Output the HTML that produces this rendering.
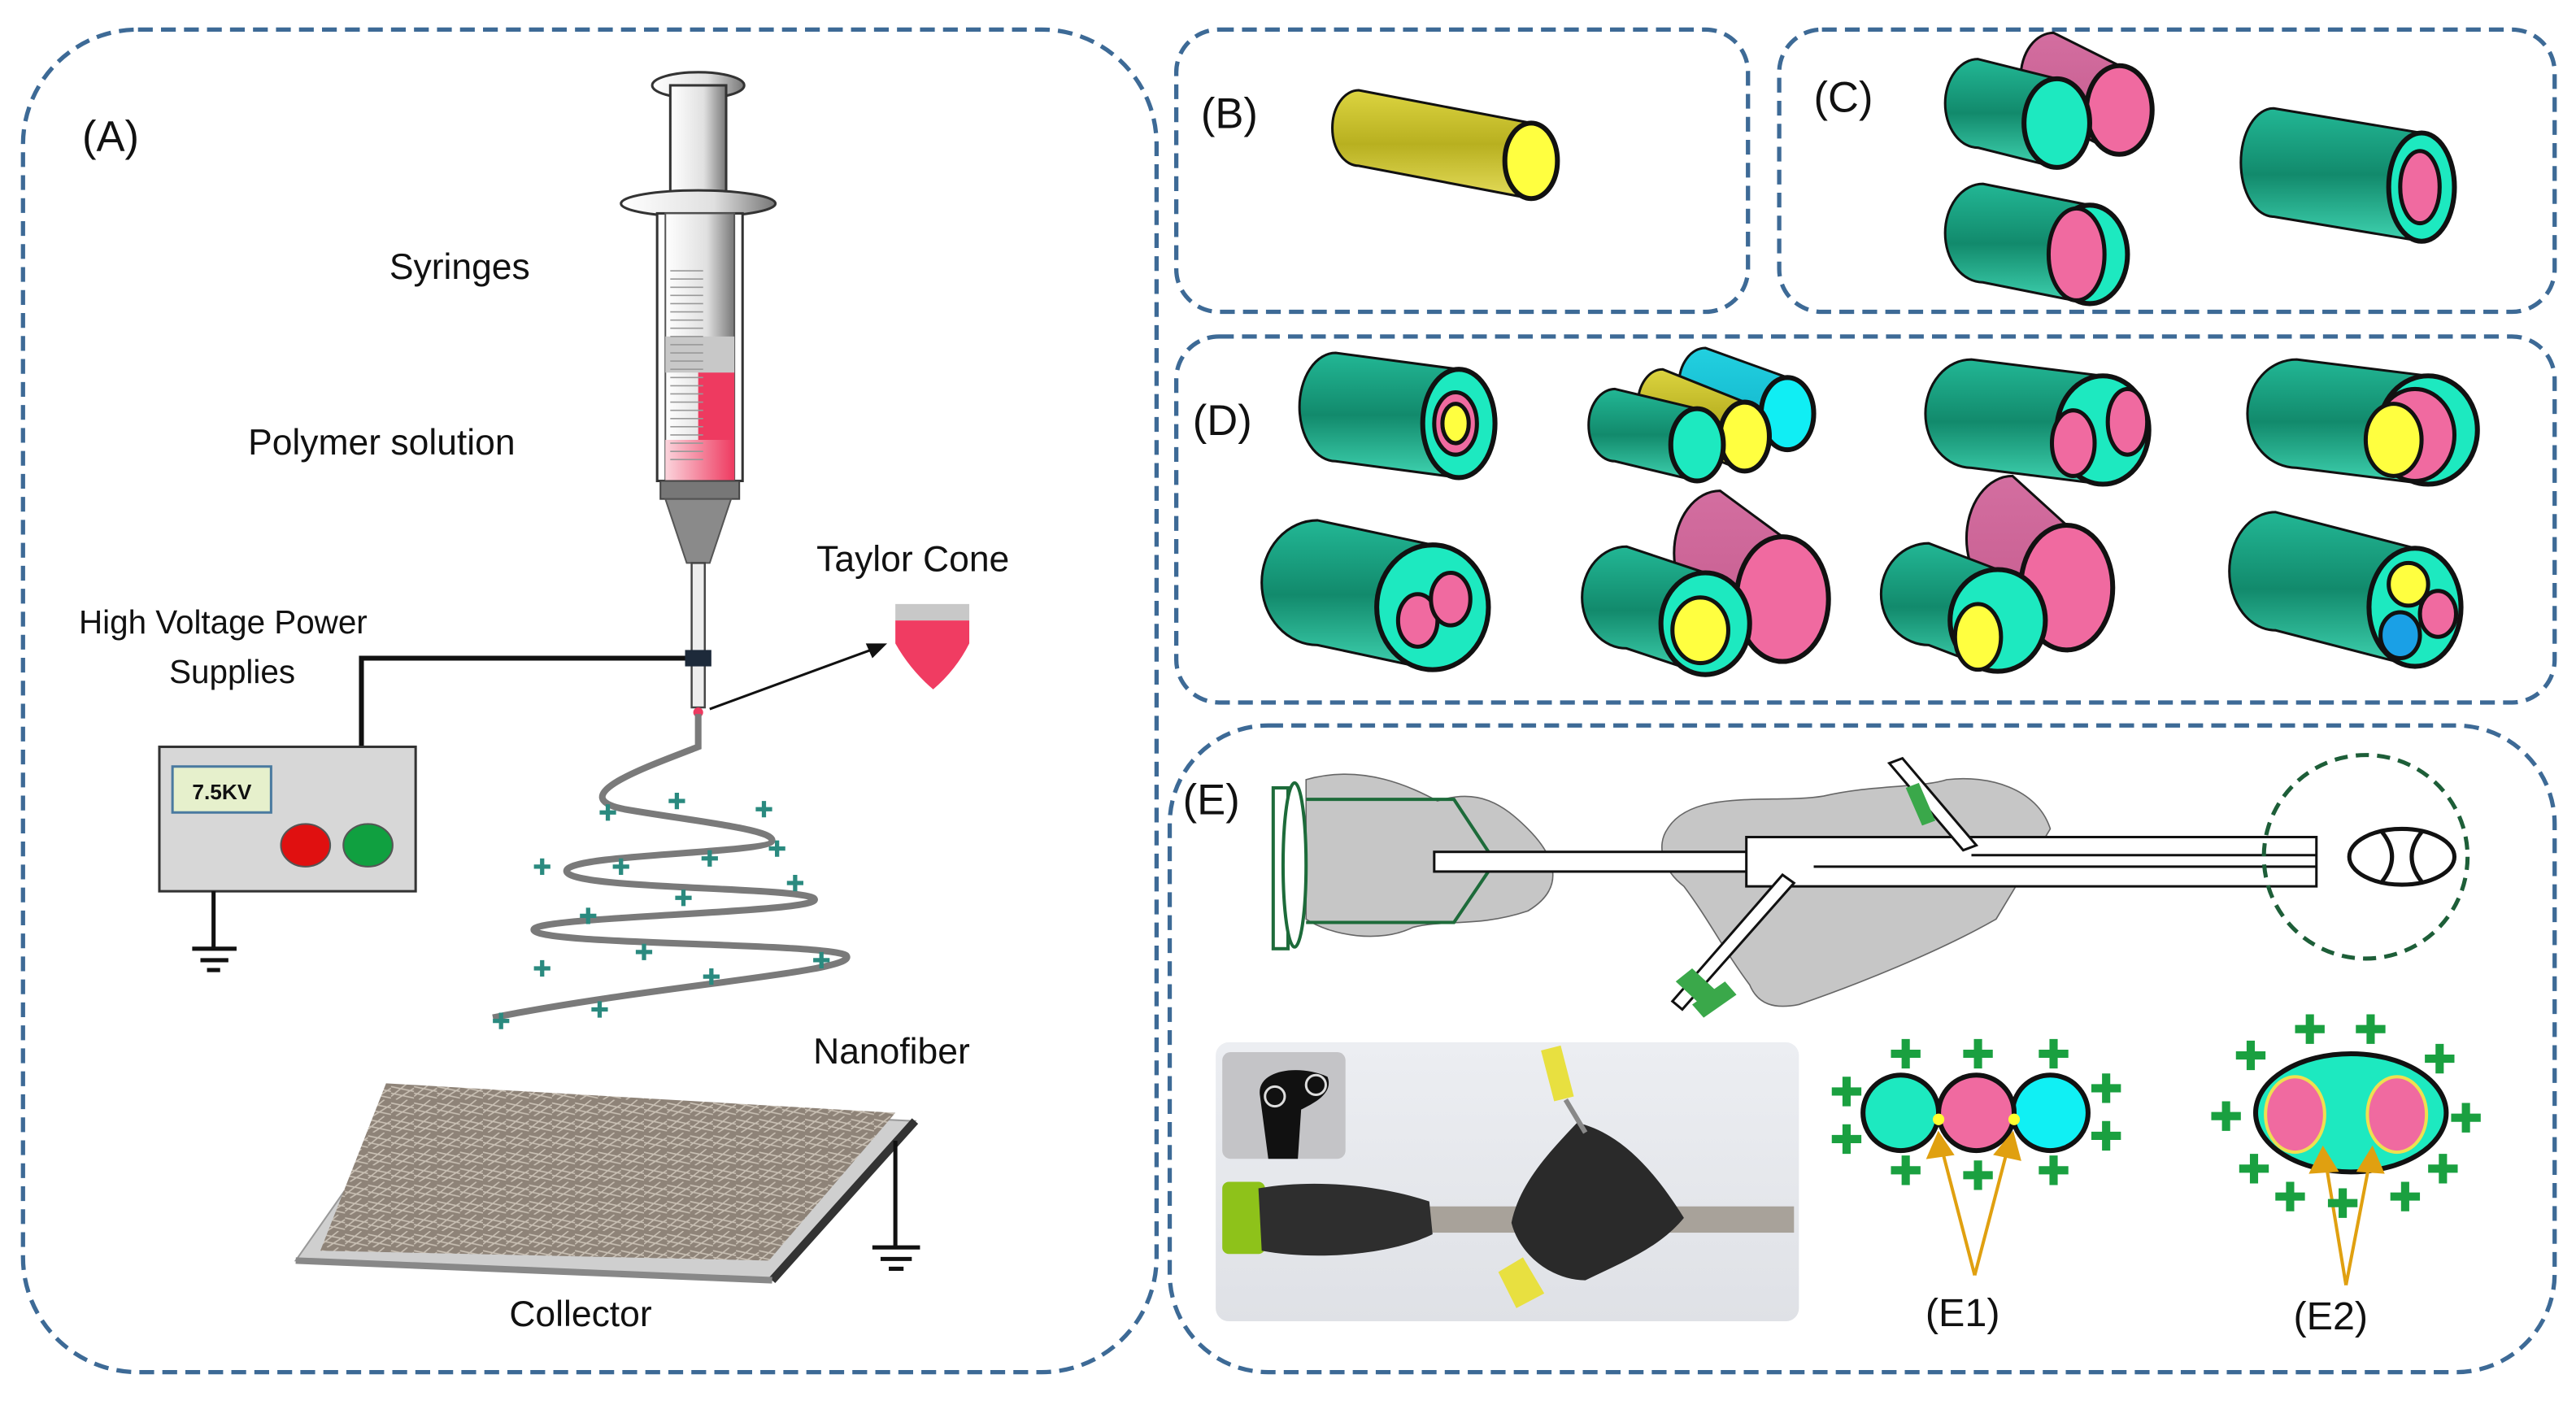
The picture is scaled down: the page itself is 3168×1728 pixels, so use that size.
<!DOCTYPE html>
<html><head><meta charset="utf-8"><style>
html,body{margin:0;padding:0;background:#fff;}
svg{display:block;}
text{font-family:"Liberation Sans","DejaVu Sans",sans-serif;fill:#111;}
</style></head><body>
<svg id="s" width="3168" height="1728" viewBox="0 0 1568 856" preserveAspectRatio="none" xmlns="http://www.w3.org/2000/svg">
<defs>
<linearGradient id="gT" x1="0" y1="0" x2="0" y2="1"><stop offset="0" stop-color="#22b795"/><stop offset="0.5" stop-color="#128a6c"/><stop offset="1" stop-color="#3fd3b0"/></linearGradient>
<linearGradient id="gP" x1="0" y1="0" x2="0" y2="1"><stop offset="0" stop-color="#d36ea0"/><stop offset="1" stop-color="#c45a8c"/></linearGradient>
<linearGradient id="gY" x1="0" y1="0" x2="0" y2="1"><stop offset="0" stop-color="#dcd440"/><stop offset="0.5" stop-color="#b8b020"/><stop offset="1" stop-color="#e4dc5a"/></linearGradient>
<linearGradient id="gC" x1="0" y1="0" x2="0" y2="1"><stop offset="0" stop-color="#22d0e0"/><stop offset="1" stop-color="#10b0c8"/></linearGradient>
<linearGradient id="gS" x1="0" y1="0" x2="1" y2="0"><stop offset="0" stop-color="#fff"/><stop offset="0.6" stop-color="#e0e0e0"/><stop offset="1" stop-color="#777"/></linearGradient>
<linearGradient id="gR" x1="0" y1="0" x2="1" y2="0"><stop offset="0" stop-color="#fbd4dc"/><stop offset="1" stop-color="#ee3a60"/></linearGradient>
<linearGradient id="gPh" x1="0" y1="0" x2="0" y2="1"><stop offset="0" stop-color="#eceef2"/><stop offset="1" stop-color="#dfe1e6"/></linearGradient>
<pattern id="fib" width="14" height="10" patternUnits="userSpaceOnUse"><rect width="14" height="10" fill="#8e8378"/><path d="M0 2 L14 5 M0 8 L10 0 M3 10 L14 3 M0 6 L14 9" stroke="#c9c0b4" stroke-width="0.8"/></pattern>
</defs>
<g fill="none" stroke="#3d6a96" stroke-width="2.6" stroke-dasharray="9,5">
<rect x="14" y="18" width="690" height="818" rx="70"/>
<rect x="716" y="18" width="348" height="172" rx="26"/>
<rect x="1083" y="18" width="472" height="172" rx="26"/>
<rect x="716" y="205" width="839" height="223" rx="26"/>
<rect x="712" y="442" width="843" height="394" rx="60"/>
</g>
<g font-size="26"><text x="50" y="92">(A)</text><text x="731" y="78">(B)</text><text x="1104" y="68">(C)</text><text x="726" y="265">(D)</text><text x="720" y="496">(E)</text></g>

<!-- syringe -->
<ellipse cx="425" cy="52" rx="28" ry="8" fill="url(#gS)" stroke="#333" stroke-width="1.5"/>
<rect x="408" y="52" width="34" height="70" fill="url(#gS)" stroke="#333" stroke-width="1.5"/>
<ellipse cx="425" cy="124" rx="47" ry="8" fill="url(#gS)" stroke="#333" stroke-width="1.5"/>
<rect x="400" y="130" width="52" height="163" fill="#fff" stroke="#333" stroke-width="1.5"/>
<rect x="405" y="130" width="42" height="163" fill="url(#gS)" stroke="#555" stroke-width="1"/>
<rect x="425" y="225" width="22" height="68" fill="#ee3a60"/>
<rect x="405" y="268" width="42" height="25" fill="url(#gR)"/>
<rect x="405" y="205" width="42" height="22" fill="#c8c8c8"/>
<g stroke="#999" stroke-width="0.8" id="grad"></g>
<rect x="402" y="293" width="48" height="11" fill="#777" stroke="#444"/>
<path d="M405 304 L445 304 L432 343 L418 343 Z" fill="#8a8a8a" stroke="#555"/>
<rect x="421" y="343" width="8" height="88" fill="#eee" stroke="#444" stroke-width="1.2"/>
<rect x="417" y="396" width="16" height="10" fill="#1d2a3a"/>
<circle cx="425" cy="434" r="3" fill="#ee3a60"/>
<path d="M417 401 L220 401 L220 455" fill="none" stroke="#111" stroke-width="3"/>
<rect x="97" y="455" width="156" height="88" fill="#d7d7d7" stroke="#333" stroke-width="1.5"/>
<rect x="105" y="467" width="60" height="28" fill="#e6f0cc" stroke="#4a7aa0" stroke-width="1.5"/>
<text x="117" y="487" font-size="13" font-weight="bold">7.5KV</text>
<ellipse cx="186" cy="515" rx="15" ry="13" fill="#e01010" stroke="#555"/>
<ellipse cx="224" cy="515" rx="15" ry="13" fill="#10a040" stroke="#555"/>
<path d="M130 543 L130 578 M117 578 L144 578 M122 585 L139 585 M126 591 L134 591" stroke="#111" stroke-width="2.5"/>
<text x="237" y="170" font-size="22">Syringes</text>
<text x="151" y="277" font-size="22">Polymer solution</text>
<text x="48" y="386" font-size="20">High Voltage Power</text>
<text x="103" y="416" font-size="20">Supplies</text>
<text x="497" y="348" font-size="22">Taylor Cone</text>
<text x="495" y="648" font-size="22">Nanofiber</text>
<text x="310" y="808" font-size="22">Collector</text>
<rect x="545" y="368" width="45" height="10" fill="#c8c8c8"/>
<path d="M545 378 L590 378 L590 392 Q582 408 568 420 Q554 408 545 392 Z" fill="#f03c62"/>
<path d="M432 432 L530 396" stroke="#111" stroke-width="1.5"/>
<path d="M540 392 L527 392 L531 401 Z" fill="#111"/>
<path d="M425 435 L425 455 C400 465 340 485 380 493 C420 500 470 505 470 512 C470 520 350 520 345 530 C340 542 480 540 495 547 C510 556 330 558 325 566 C320 576 500 574 515 582 C525 592 400 600 300 620" fill="none" stroke="#7a7a7a" stroke-width="4"/>
<g id="tp" fill="#2a8a7f"></g>
<!-- collector -->
<polygon points="180,768 250,668 557,683 470,780" fill="#cfcfcf" stroke="#999"/>
<polygon points="235,660 545,678 468,768 195,762" fill="url(#fib)"/>
<path d="M557 683 L470 780" stroke="#333" stroke-width="5"/>
<path d="M180 768 L470 780" stroke="#888" stroke-width="4"/>
<path d="M545 695 L545 760 M531 760 L560 760 M536 767 L555 767 M541 773 L550 773" stroke="#111" stroke-width="2.5"/>

<g id="cyl"></g>

<!-- E schematic -->
<path d="M795 475 C830 465 860 480 875 488 C900 480 915 490 930 505 C945 520 955 540 930 555 C900 565 880 560 860 565 C840 575 810 570 795 560 Z" fill="#c6c6c6" stroke="#666" stroke-width="0.8"/>
<path d="M1015 505 C1030 480 1080 490 1110 485 C1140 478 1170 480 1185 475 C1210 472 1240 480 1248 505 L1215 560 C1180 580 1130 600 1095 612 C1080 615 1070 612 1065 600 C1050 580 1040 560 1025 540 C1012 530 1008 515 1015 505 Z" fill="#c6c6c6" stroke="#666" stroke-width="0.8"/>
<rect x="775" y="480" width="9" height="98" fill="#fff" stroke="#1d6b3a" stroke-width="2"/>
<ellipse cx="788" cy="527" rx="7" ry="50" fill="#fff" stroke="#1d6b3a" stroke-width="2"/>
<path d="M795 487 L885 487 L910 525 L885 562 L795 562" fill="none" stroke="#1d6b3a" stroke-width="2"/>
<rect x="873" y="519" width="207" height="12" fill="#fff" stroke="#111" stroke-width="1.5"/>
<path d="M1063 510 L1410 510 L1410 540 L1063 540 Z" fill="#fff" stroke="#111" stroke-width="1.5"/>
<path d="M1200 521 L1410 521 M1104 528 L1410 528" stroke="#111" stroke-width="1.5"/>
<path d="M1150 465 L1158 462 L1203 515 L1195 518 Z" fill="#fff" stroke="#111" stroke-width="1.5"/>
<path d="M1018 610 L1024 615 L1092 538 L1085 533 Z" fill="#fff" stroke="#111" stroke-width="1.5"/>
<path d="M1160 480 L1168 477 L1178 500 L1170 503 Z M1020 598 L1030 590 L1045 604 L1035 612 Z M1030 612 L1050 598 L1057 606 L1037 620 Z" fill="#3aa84a"/>
<circle cx="1440" cy="522" r="62" fill="none" stroke="#1d5e38" stroke-width="2.5" stroke-dasharray="8,5"/>
<ellipse cx="1462" cy="522" rx="32" ry="17" fill="#fff" stroke="#111" stroke-width="2.5"/>
<path d="M1450 507 Q1462 522 1450 537 M1474 507 Q1462 522 1474 537" fill="none" stroke="#111" stroke-width="2.5"/>

<!-- photo -->
<rect x="740" y="635" width="355" height="170" rx="8" fill="url(#gPh)"/>
<rect x="744" y="641" width="75" height="65" rx="5" fill="#c4c4c7"/>
<path d="M767 668 C764 652 790 648 808 656 C812 666 800 672 792 676 L790 706 L772 706 Z" fill="#111"/>
<circle cx="776" cy="668" r="6" fill="none" stroke="#ddd" stroke-width="1.5"/><circle cx="801" cy="661" r="6" fill="none" stroke="#ddd" stroke-width="1.5"/>
<rect x="744" y="720" width="26" height="44" rx="4" fill="#8ec21a"/>
<rect x="868" y="735" width="224" height="16" fill="#a8a29a"/>
<path d="M766 724 C800 718 840 722 870 732 L872 752 C845 765 800 768 768 762 Z" fill="#2e2e2e"/>
<path d="M960 684 C985 690 1005 710 1025 742 C1010 760 990 768 965 780 C945 780 925 765 920 745 C925 720 945 700 960 684 Z" fill="#2a2a2a"/>
<path d="M953 670 L965 690" stroke="#888" stroke-width="3"/>
<path d="M938 640 L950 637 L958 668 L946 671 Z M912 775 L927 766 L940 788 L923 797 Z" fill="#e8e040"/>

<!-- E1 E2 -->
<ellipse cx="1157" cy="678" rx="23" ry="23" fill="#1de9c0" stroke="#111" stroke-width="3"/>
<ellipse cx="1248" cy="678" rx="23" ry="23" fill="#10f0f4" stroke="#111" stroke-width="3"/>
<ellipse cx="1203" cy="678" rx="23" ry="23" fill="#f06aa0" stroke="#111" stroke-width="3"/>
<circle cx="1180" cy="682" r="3.5" fill="#ffff30"/><circle cx="1226" cy="682" r="3.5" fill="#ffff30"/>
<ellipse cx="1431" cy="678" rx="58" ry="36" fill="#1de9c0" stroke="#111" stroke-width="3"/>
<ellipse cx="1397" cy="679" rx="18" ry="23" fill="#f06aa0" stroke="#eee050" stroke-width="2"/>
<ellipse cx="1459" cy="679" rx="18" ry="23" fill="#f06aa0" stroke="#eee050" stroke-width="2"/>
<g stroke="#e0a010" stroke-width="2" fill="#e0a010">
<path d="M1202 777 L1182 700 M1202 777 L1222 700 M1428 783 L1416 710 M1428 783 L1442 710" fill="none"/>
<path d="M1180 691 L1174 705 L1188 703 Z M1225 691 L1215 703 L1229 706 Z M1414 700 L1407 714 L1422 713 Z M1444 700 L1436 713 L1450 714 Z"/>
</g>
<text x="1172" y="808" font-size="24">(E1)</text>
<text x="1396" y="810" font-size="24">(E2)</text>
<g id="gp" fill="#1aa040"></g>
</svg>
<script>
var NS="http://www.w3.org/2000/svg";
function el(p,t,a){var e=document.createElementNS(NS,t);for(var k in a)e.setAttribute(k,a[k]);p.appendChild(e);return e;}
var g=document.getElementById('grad');
for(var y=165;y<282;y+=5){el(g,'line',{x1:408,x2:428,y1:y,y2:y});}
function plus(p,x,y,s,w){el(p,'path',{d:'M'+(x-w/2)+' '+(y-s)+'h'+w+'v'+(s-w/2)+'h'+(s-w/2)+'v'+w+'h-'+(s-w/2)+'v'+(s-w/2)+'h-'+w+'v-'+(s-w/2)+'h-'+(s-w/2)+'v-'+w+'h'+(s-w/2)+'z'});}
var tp=document.getElementById('tp');
[[370,495],[412,488],[465,493],[330,528],[378,528],[432,523],[473,517],[484,538],[416,547],[358,558],[330,590],[392,580],[433,595],[500,585],[305,622],[365,615]].forEach(function(q){plus(tp,q[0],q[1],5,2.6);});
var gp=document.getElementById('gp');
[[1160,642],[1204,642],[1250,642],[1124,665],[1282,663],[1124,694],[1282,692],[1160,713],[1204,716],[1250,713],[1406,627],[1443,627],[1370,643],[1485,645],[1355,680],[1501,681],[1372,712],[1487,712],[1394,729],[1426,733],[1464,729]].forEach(function(q){plus(gp,q[0],q[1],9,5);});
var cg=document.getElementById('cyl');
function cyl(cx,cy,rx,ry,dx,dy,body,face,inner){
 var bx=cx+dx,by=cy+dy;
 el(cg,'path',{d:'M'+bx+' '+(by-ry)+' L'+cx+' '+(cy-ry)+' L'+cx+' '+(cy+ry)+' L'+bx+' '+(by+ry)+' A'+rx+' '+ry+' 0 0 1 '+bx+' '+(by-ry)+'Z',fill:body,stroke:'#111','stroke-width':1.5});
 el(cg,'ellipse',{cx:cx,cy:cy,rx:rx,ry:ry,fill:face,stroke:'#111','stroke-width':3});
 (inner||[]).forEach(function(i){el(cg,'ellipse',{cx:i[0],cy:i[1],rx:i[2],ry:i[3],fill:i[4],stroke:'#111','stroke-width':2.5});});
}
var T='#1de9c0',P='#f06aa0',Y='#ffff40',C='#10eef4',B='#1aa0e6';
cyl(932,98,16,23,-105,-20,'url(#gY)',Y);
cyl(1290,67,20,27,-40,-20,'url(#gP)',P);
cyl(1252,75,20,27,-48,-12,'url(#gT)',T);
cyl(1474,114,20,33,-90,-15,'url(#gT)',T,[[1473,114,12,22,P]]);
cyl(1272,155,23,30,-65,-13,'url(#gT)',T,[[1264,155,17,28,P]]);
cyl(888,258,22,33,-75,-10,'url(#gT)',T,[[886,258,13,19,P],[886,258,8,12,Y]]);
cyl(1088,252,16,22,-50,-18,'url(#gC)',C);
cyl(1062,266,15,21,-50,-20,'url(#gY)',Y);
cyl(1033,271,16,22,-50,-12,'url(#gT)',T);
cyl(1280,262,28,33,-80,-10,'url(#gT)',T,[[1262,270,13,20,P],[1295,257,12,20,P]]);
cyl(1478,262,30,33,-80,-10,'url(#gT)',T,[[1470,265,24,28,P],[1457,268,17,22,Y]]);
cyl(872,370,34,38,-70,-15,'url(#gT)',T,[[863,378,12,16,P],[883,365,12,16,P]]);
cyl(1085,365,28,38,-38,-28,'url(#gP)',P);
cyl(1038,380,27,31,-48,-16,'url(#gT)',T,[[1035,384,17,20,Y]]);
cyl(1258,358,28,38,-33,-30,'url(#gP)',P);
cyl(1216,378,29,31,-42,-16,'url(#gT)',T,[[1204,388,14,20,Y]]);
cyl(1470,370,28,36,-85,-22,'url(#gT)',T,[[1466,356,12,13,Y],[1484,374,11,14,P],[1461,387,12,14,B]]);
</script>
</body></html>
